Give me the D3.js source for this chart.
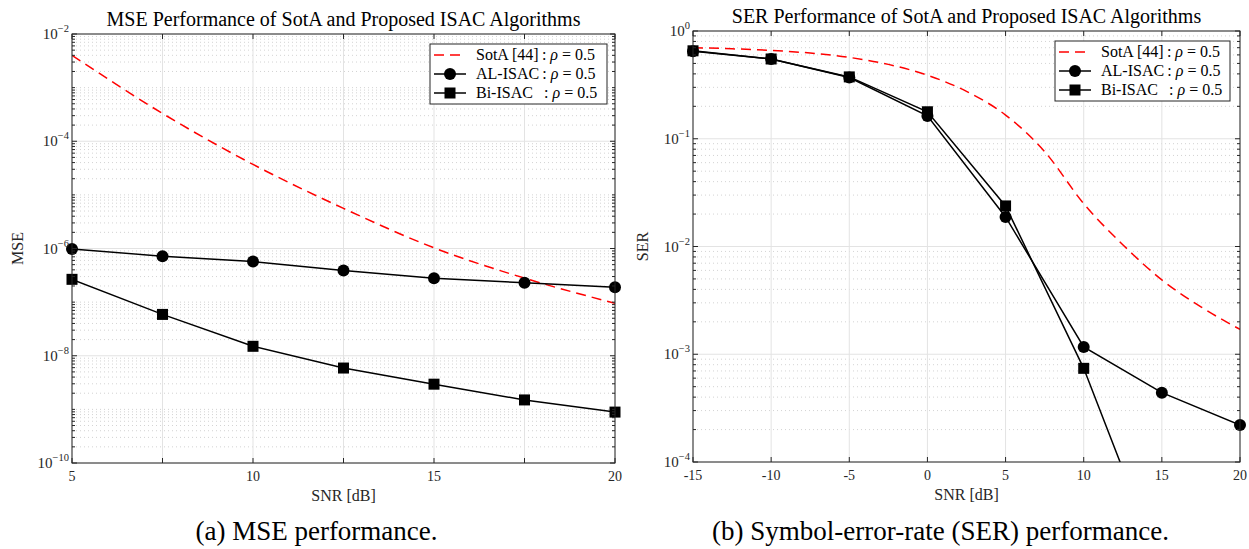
<!DOCTYPE html>
<html><head><meta charset="utf-8">
<script src="https://cdn.jsdelivr.net/npm/d3@7"></script>
<style>body{margin:0;background:#fff}</style>
</head><body><svg id="c" width="1249" height="549"></svg>
<script>
// ---------- data ----------
const mseSNR  = [5, 7.5, 10, 12.5, 15, 17.5, 20];
const mseSotA = [4.0e-3, 3.3e-4, 3.7e-5, 5.6e-6, 1.03e-6, 2.8e-7, 9.5e-8];
const mseAL   = [9.8e-7, 7.2e-7, 5.7e-7, 3.9e-7, 2.8e-7, 2.3e-7, 1.9e-7];
const mseBi   = [2.66e-7, 5.9e-8, 1.5e-8, 5.9e-9, 2.95e-9, 1.5e-9, 8.9e-10];

const serSNR     = [-15, -10, -5, 0, 5, 10, 15, 20];
const serAL      = [0.65, 0.55, 0.37, 0.163, 0.0188, 1.17e-3, 4.4e-4, 2.2e-4];
const serBi      = [0.655, 0.55, 0.375, 0.178, 0.0238, 7.4e-4, 1.0e-5, 1.2e-6];
const serSotASNR = [-15, -12.5, -10, -7.5, -5, -2.5, 0, 2.5, 5, 7.5, 10, 12.5, 15, 17.5, 20];
const serSotA    = [0.70, 0.684, 0.66, 0.624, 0.569, 0.49, 0.389, 0.275, 0.166, 0.076, 0.025, 0.0104, 0.0049, 0.00275, 0.0017];

const mseXTicks = [5, 7.5, 10, 12.5, 15, 17.5, 20];
const mseXLabels = [5, 10, 15, 20];
const mseYExp = [-2, -4, -6, -8, -10];
const serXTicks = [-15, -10, -5, 0, 5, 10, 15, 20];
const serYExp = [0, -1, -2, -3, -4];

const legendLabels = [["SotA [44]", ":"], ["AL-ISAC", ":"], ["Bi-ISAC\u00a0\u00a0", ":"]];

// ---------- drawing ----------
const svg = d3.select('#c');
const SERIF = "'Liberation Serif','Times New Roman',serif";
const AX = '#262626';
let clipId = 0;

function panel(o) {
  const g = svg.append('g');
  const x = d3.scaleLinear().domain(o.xDomain).range([o.left, o.right]);
  const y = d3.scaleLog().domain(o.yDomain).range([o.bottom, o.top]);
  const eLo = Math.round(Math.log10(o.yDomain[0])), eHi = Math.round(Math.log10(o.yDomain[1]));
  const majorY = o.yExp.map(e => Math.pow(10, e));
  const minorY = [];
  for (let e = eLo; e < eHi; e++) {
    for (let m = 1; m <= 9; m++) {
      const v = m * Math.pow(10, e);
      if (m === 1 && o.yExp.includes(e)) continue;
      minorY.push(v);
    }
  }
  // minor grid
  g.selectAll('.mg').data(minorY).enter().append('line')
    .attr('x1', o.left).attr('x2', o.right)
    .attr('y1', d => y(d)).attr('y2', d => y(d))
    .attr('stroke', '#c8c8c8').attr('stroke-width', 0.8).attr('stroke-dasharray', '1,3');
  // major grid
  g.selectAll('.gy').data(majorY).enter().append('line')
    .attr('x1', o.left).attr('x2', o.right)
    .attr('y1', d => y(d)).attr('y2', d => y(d))
    .attr('stroke', '#e3e3e3').attr('stroke-width', 1);
  g.selectAll('.gx').data(o.xTicks).enter().append('line')
    .attr('y1', o.top).attr('y2', o.bottom)
    .attr('x1', d => x(d)).attr('x2', d => x(d))
    .attr('stroke', '#e3e3e3').attr('stroke-width', 1);

  // clip
  const cid = 'clip' + (clipId++);
  svg.append('clipPath').attr('id', cid).append('rect')
    .attr('x', o.left).attr('y', o.top).attr('width', o.right - o.left).attr('height', o.bottom - o.top);

  const line = d3.line().x(d => x(d[0])).y(d => y(d[1]));
  const lineS = d3.line().x(d => x(d[0])).y(d => y(d[1])).curve(d3.curveMonotoneX);
  const lg = g.append('g').attr('clip-path', `url(#${cid})`);
  lg.append('path').datum(o.sotaX.map((v, i) => [v, o.sota[i]]))
    .attr('d', lineS).attr('fill', 'none').attr('stroke', '#ff0000')
    .attr('stroke-width', 1.5).attr('stroke-dasharray', '10,6');
  lg.append('path').datum(o.xs.map((v, i) => [v, o.al[i]]))
    .attr('d', line).attr('fill', 'none').attr('stroke', '#000').attr('stroke-width', 1.5);
  lg.append('path').datum(o.xs.map((v, i) => [v, o.bi[i]]))
    .attr('d', line).attr('fill', 'none').attr('stroke', '#000').attr('stroke-width', 1.5);
  const inDom = v => v >= o.yDomain[0] && v <= o.yDomain[1];
  g.selectAll('.mc').data(o.xs.map((v, i) => [v, o.al[i]]).filter(d => inDom(d[1]))).enter()
    .append('circle').attr('cx', d => x(d[0])).attr('cy', d => y(d[1])).attr('r', 6).attr('fill', '#000');
  g.selectAll('.ms').data(o.xs.map((v, i) => [v, o.bi[i]]).filter(d => inDom(d[1]))).enter()
    .append('rect').attr('x', d => x(d[0]) - 5.5).attr('y', d => y(d[1]) - 5.5)
    .attr('width', 11).attr('height', 11).attr('fill', '#000');

  // axes box
  g.append('rect').attr('x', o.left).attr('y', o.top).attr('width', o.right - o.left)
    .attr('height', o.bottom - o.top).attr('fill', 'none').attr('stroke', AX).attr('stroke-width', 1);
  // ticks
  const tk = g.append('g').attr('stroke', AX).attr('stroke-width', 1);
  o.xTicks.forEach(t => {
    tk.append('line').attr('x1', x(t)).attr('x2', x(t)).attr('y1', o.bottom).attr('y2', o.bottom - 5);
    tk.append('line').attr('x1', x(t)).attr('x2', x(t)).attr('y1', o.top).attr('y2', o.top + 5);
  });
  majorY.forEach(t => {
    tk.append('line').attr('x1', o.left).attr('x2', o.left + 5).attr('y1', y(t)).attr('y2', y(t));
    tk.append('line').attr('x1', o.right).attr('x2', o.right - 5).attr('y1', y(t)).attr('y2', y(t));
  });
  minorY.forEach(t => {
    tk.append('line').attr('x1', o.left).attr('x2', o.left + 3).attr('y1', y(t)).attr('y2', y(t));
    tk.append('line').attr('x1', o.right).attr('x2', o.right - 3).attr('y1', y(t)).attr('y2', y(t));
  });
  // x labels
  g.selectAll('.xl').data(o.xLabels).enter().append('text')
    .attr('x', d => x(d)).attr('y', o.bottom + 18).attr('text-anchor', 'middle')
    .attr('font-family', SERIF).attr('font-size', 14).attr('fill', AX).text(d => d);
  // y labels
  o.yExp.forEach(e => {
    const t = g.append('text').attr('x', o.left - 3).attr('y', y(Math.pow(10, e)) + 5)
      .attr('text-anchor', 'end').attr('font-family', SERIF).attr('font-size', 15).attr('fill', AX);
    t.append('tspan').text('10');
    t.append('tspan').attr('dy', -7).attr('font-size', 10.5).text(e === 0 ? '0' : '\u2212' + (-e));
  });
  // titles
  g.append('text').attr('x', (o.left + o.right) / 2).attr('y', o.top - 8).attr('text-anchor', 'middle')
    .attr('font-family', SERIF).attr('font-size', 20).attr('fill', '#000').text(o.title);
  g.append('text').attr('x', (o.left + o.right) / 2).attr('y', o.bottom + 38).attr('text-anchor', 'middle')
    .attr('font-family', SERIF).attr('font-size', 16).attr('fill', AX).text('SNR [dB]');
  g.append('text').attr('transform', `translate(${o.yLabelX},${(o.top + o.bottom) / 2}) rotate(-90)`)
    .attr('text-anchor', 'middle').attr('font-family', SERIF).attr('font-size', 16).attr('fill', AX).text(o.yLabel);
  g.append('text').attr('x', o.capX).attr('y', 540).attr('text-anchor', 'middle')
    .attr('font-family', SERIF).attr('font-size', 27).attr('fill', '#000').text(o.caption);

  // legend
  const L = o.legend;
  const lgd = g.append('g');
  lgd.append('rect').attr('x', L.x).attr('y', L.y).attr('width', L.w).attr('height', L.h)
    .attr('fill', '#fff').attr('stroke', AX).attr('stroke-width', 1);
  legendLabels.forEach((lab, i) => {
    const cy = L.y + 11 + i * 19;
    const lx0 = L.x + 4, lx1 = L.x + 36;
    const ln = lgd.append('line').attr('x1', lx0).attr('x2', lx1).attr('y1', cy).attr('y2', cy)
      .attr('stroke-width', 1.5);
    if (i === 0) ln.attr('stroke', '#ff0000').attr('stroke-dasharray', '10,6');
    else ln.attr('stroke', '#000');
    if (i === 1) lgd.append('circle').attr('cx', (lx0 + lx1) / 2).attr('cy', cy).attr('r', 6).attr('fill', '#000');
    if (i === 2) lgd.append('rect').attr('x', (lx0 + lx1) / 2 - 5.5).attr('y', cy - 5.5).attr('width', 11).attr('height', 11).attr('fill', '#000');
    const t = lgd.append('text').attr('x', L.x + 46).attr('y', cy + 5)
      .attr('font-family', SERIF).attr('font-size', 16).attr('fill', '#000');
    t.append('tspan').text(lab[0] + '\u2009' + lab[1] + '\u00a0');
    t.append('tspan').attr('font-style', 'italic').text('\u03c1');
    t.append('tspan').text('\u2005=\u20050.5');
  });
}

panel({
  left: 72, right: 615, top: 34, bottom: 463,
  xDomain: [5, 20], yDomain: [1e-10, 1e-2],
  xTicks: mseXTicks, xLabels: mseXLabels, yExp: mseYExp,
  xs: mseSNR, al: mseAL, bi: mseBi, sotaX: mseSNR, sota: mseSotA,
  title: 'MSE Performance of SotA and Proposed ISAC Algorithms',
  yLabel: 'MSE', yLabelX: 23, caption: '(a) MSE performance.', capX: 316.5,
  legend: { x: 430, y: 44, w: 177, h: 60 }
});
panel({
  left: 693, right: 1240, top: 31, bottom: 462,
  xDomain: [-15, 20], yDomain: [1e-4, 1],
  xTicks: serXTicks, xLabels: serXTicks, yExp: serYExp,
  xs: serSNR, al: serAL, bi: serBi, sotaX: serSotASNR, sota: serSotA,
  title: 'SER Performance of SotA and Proposed ISAC Algorithms',
  yLabel: 'SER', yLabelX: 648, caption: '(b) Symbol-error-rate (SER) performance.', capX: 940.5,
  legend: { x: 1055, y: 41, w: 175, h: 60 }
});
</script></body></html>
